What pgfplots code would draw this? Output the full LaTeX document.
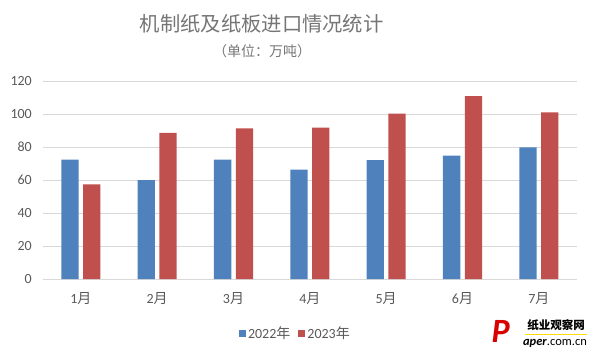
\documentclass[border=0pt]{standalone}
\usepackage{pgfplots}
\pgfplotsset{compat=1.18}
\usepackage{fontspec}
\setmainfont{Carlito}
\newfontfamily\cjk{Noto Sans CJK SC}
\definecolor{cblue}{HTML}{4F81BD}
\definecolor{cred}{HTML}{C0504D}
\definecolor{cgrid}{HTML}{D9D9D9}
\definecolor{ctext}{HTML}{595959}
\definecolor{ctitle}{HTML}{757575}
\begin{document}
\begin{tikzpicture}
\begin{axis}[
  scale only axis, width=534.3pt, height=198pt,
  at={(0,0)}, anchor=south west,
  ybar=4.5pt, bar width=17.3pt,
  xmin=-0.5, xmax=6.5, ymin=0, ymax=120,
  xtick={0,1,2,3,4,5,6},
  xticklabels={{1\cjk 月},{2\cjk 月},{3\cjk 月},{4\cjk 月},{5\cjk 月},{6\cjk 月},{7\cjk 月}},
  ytick={0,20,40,60,80,100,120},
  ymajorgrids, grid style={cgrid, line width=1pt},
  axis line style={draw=none}, major tick length=0pt,
  tick label style={font=\fontsize{14}{16}\selectfont, text=ctext},
  /pgf/number format/assume math mode=true,
  xticklabel style={anchor=center, yshift=-19.3pt},
  yticklabel style={anchor=east, inner sep=0pt, xshift=-10.7pt},
  legend columns=2,
  legend style={at={(0.473,-0.274)}, anchor=center, draw=none, fill=none,
    font=\fontsize{14}{16}\selectfont, text=ctext,
    /tikz/every even column/.append style={column sep=6pt}},
  legend image code/.code={\fill[#1, draw=none] (0pt,-3.5pt) rectangle (7pt,3.5pt);},
  clip=false,
]
\addplot[fill=cblue, draw=none] coordinates {(0,72.4) (1,60.0) (2,72.4) (3,66.3) (4,72.1) (5,74.8) (6,79.8)};
\addplot[fill=cred, draw=none] coordinates {(0,57.4) (1,88.5) (2,91.3) (3,91.8) (4,100.2) (5,110.9) (6,101.0)};
\legend{{2022\cjk 年},{2023\cjk 年}}
\end{axis}
\node[text=ctitle, font=\cjk\fontsize{20.3}{22}\selectfont] at (219pt,255pt) {机制纸及纸板进口情况统计};
\node[text=ctitle, font=\cjk\fontsize{14}{16}\selectfont] at (219.3pt,228pt) {（单位：万吨）};
% watermark
\node[text=red!85!black, font=\bfseries\itshape\fontsize{34}{34}\selectfont, inner sep=1pt] at (458pt,-52pt) {P};
\node[text=black, font=\cjk\bfseries\fontsize{11.5}{12}\selectfont, inner sep=0pt] at (513.3pt,-46pt) {纸业观察网};
\draw[yellow!80!orange, line width=1pt] (482.3pt,-55pt) -- (544.3pt,-55pt);
\node[text=black, font=\fontsize{12.5}{13}\selectfont, inner sep=0pt] at (512.3pt,-64pt) {\textbf{\textit{aper}}.com.cn};
\path (-42.7pt,-75pt) rectangle (548.3pt,279pt);
\end{tikzpicture}
\end{document}
